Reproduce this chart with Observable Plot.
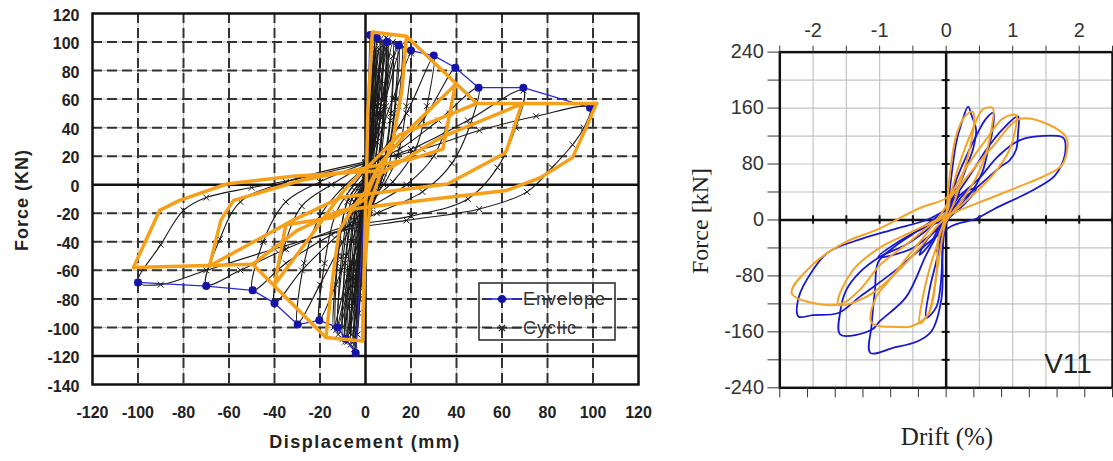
<!DOCTYPE html>
<html><head><meta charset="utf-8">
<script src="https://cdn.jsdelivr.net/npm/d3@7"></script>
<script src="https://cdn.jsdelivr.net/npm/@observablehq/plot@0.6"></script>
<style>
body{margin:0;background:#fff;}
#wrap{position:relative;width:1113px;height:461px;overflow:hidden;background:#fff;}
#left,#right{position:absolute;top:0;}
#left{left:0;} #right{left:680px;}
.lbl{position:absolute;white-space:nowrap;line-height:1;}
.sansb{font-family:"Liberation Sans",Arial,sans-serif;font-weight:bold;color:#222;}
.serif{font-family:"Liberation Serif","Times New Roman",serif;color:#222;}
</style></head><body>
<div id="wrap">
  <div id="left"></div>
  <div id="right"></div>
  <div class="lbl sansb" style="left:22px;top:200px;font-size:18px;letter-spacing:1px;transform:translate(-50%,-50%) rotate(-90deg);">Force (KN)</div>
  <div class="lbl sansb" style="left:365px;top:442px;font-size:18px;letter-spacing:1.5px;transform:translate(-50%,-50%);">Displacement (mm)</div>
  <svg class="lbl" style="left:0;top:0;" width="680" height="461">
    <rect x="479" y="283" width="136" height="57" fill="none" stroke="#333" stroke-width="1.6"/>
    <line x1="485" x2="521" y1="299" y2="299" stroke="#2b2bd9" stroke-width="1.5"/>
    <circle cx="502" cy="299" r="4" fill="#1414a8"/>
    <text x="523" y="299" dy="0.35em" font-family="Liberation Sans, Arial" font-size="18" letter-spacing="1" fill="#333">Envelope</text>
    <line x1="485" x2="521" y1="328" y2="328" stroke="#222" stroke-width="1.2"/>
    <path d="M499,325L505,331M505,325L499,331" stroke="#222" stroke-width="1.2"/>
    <text x="523" y="328" dy="0.35em" font-family="Liberation Sans, Arial" font-size="18" letter-spacing="1" fill="#333">Cyclic</text>
  </svg>
  <div class="lbl serif" style="left:700px;top:221px;font-size:24px;transform:translate(-50%,-50%) rotate(-90deg);">Force [kN]</div>
  <div class="lbl serif" style="left:947px;top:436px;font-size:25px;transform:translate(-50%,-50%);">Drift (%)</div>
  <div class="lbl" style="left:1068px;top:364px;font-size:28px;font-family:'Liberation Sans',Arial;color:#222;transform:translate(-50%,-50%);">V11</div>
</div>
<script>
// ---------- LEFT PANEL DATA (Displacement mm, Force kN) ----------
const xTicksL = [-120,-100,-80,-60,-40,-20,0,20,40,60,80,100,120];
const yTicksL = [-140,-120,-100,-80,-60,-40,-20,0,20,40,60,80,100,120];
const dashedX = [-100,-80,-60,-40,-20,20,40,60,80,100];
const dashedY = [-100,-80,-60,-40,-20,20,40,60,80,100];

const envelopePos = [[0,0],[2,105],[5,103],[9.5,100],[14.6,97.5],[20,94],[30,90.5],[39.5,82],[49.7,68],[69.4,68],[98.7,54]];
const envelopeNeg = [[0,0],[-4.3,-118],[-8.8,-108],[-12.3,-100],[-20.3,-95],[-29.8,-98],[-40,-83],[-49.6,-74],[-70,-71],[-100,-68.5]];

const cyclicLoops = [
  [[0,0],[1,25],[2,55],[1.6,30],[0.6,5],[-0.4,-15],[-1.2,-40],[-2,-62],[-1.5,-35],[-0.6,-8],[0,0]],
  [[0,0],[1.5,35],[3.5,90],[3,55],[1.5,15],[0,-10],[-1.5,-45],[-3,-90],[-2.5,-55],[-1,-15],[0.5,5],[0,0]],
  [[0,0],[2.5,70],[4,100],[3.5,60],[2,20],[0,-20],[-2,-70],[-3.5,-105],[-3,-60],[-1.5,-20],[0,0]],
  [[0,0],[2,45],[4.5,95],[4,55],[2,15],[0,-30],[-2.5,-80],[-5,-115],[-4,-70],[-2,-20],[0,0]],
  [[0,5],[2,45],[5,103],[4.2,60],[2.5,15],[0.5,-10],[-1.5,-50],[-4.3,-118],[-3.5,-70],[-2,-25],[0,0]],
  [[0,0],[3,65],[6,95],[5,55],[3,15],[0,-25],[-3,-80],[-5,-112],[-4.5,-70],[-2.5,-25],[0,0]],
  [[0,1],[3,50],[6.5,102],[5.5,55],[3,10],[0,-25],[-3,-75],[-6.5,-112],[-5.5,-65],[-3,-18],[0,1]],
  [[0,5],[4,60],[7.5,98],[6.5,50],[4,10],[1,-20],[-2.5,-70],[-6,-105],[-5,-55],[-2,-15],[0,5]],
  [[0,0],[4,55],[8,100],[7,60],[4,15],[0,-20],[-4,-65],[-8,-110],[-7,-60],[-4,-15],[0,0]],
  [[0,2],[4.5,60],[9,103],[8,55],[5,12],[0,-22],[-4,-70],[-9,-110],[-8,-60],[-4,-14],[0,2]],
  [[0,0],[3,40],[6,80],[9.5,100],[8.5,60],[6,20],[3,0],[0,-15],[-3,-50],[-6,-85],[-8.8,-108],[-7.5,-65],[-5,-25],[-2,-5],[0,5]],
  [[0,3],[5,55],[9,95],[8,45],[5,8],[1,-20],[-3,-65],[-7,-104],[-6,-55],[-3,-12],[0,3]],
  [[0,2],[5,50],[10,102],[9,55],[6,12],[1,-18],[-5,-60],[-10,-108],[-9,-55],[-5,-12],[0,2]],
  [[0,0],[6,50],[12,90],[11,45],[7,5],[2,-20],[-4,-60],[-10,-100],[-8.5,-50],[-4,-10],[0,0]],
  [[0,4],[6,50],[12,100],[11,50],[7,8],[1,-20],[-6,-65],[-12,-105],[-10.5,-50],[-6,-10],[0,4]],
  [[0,3],[7,48],[14,99],[12.5,50],[8,8],[2,-18],[-6,-55],[-13,-102],[-12,-50],[-7,-8],[0,3]],
  [[0,6],[8,55],[16,98],[14.5,55],[10,12],[3,-15],[-7,-58],[-14,-100],[-12.5,-55],[-8,-12],[0,6]],
  [[0,5],[4,35],[9,70],[14.6,97],[13.5,60],[10,22],[5,2],[0,-12],[-4,-40],[-8,-75],[-12.3,-100],[-10.5,-60],[-7,-22],[-3,-5],[0,8]],
  [[0,8],[5,30],[12,60],[20,92],[18,55],[14,20],[8,0],[0,-15],[-6,-40],[-13,-70],[-20.3,-95],[-18,-55],[-13,-20],[-6,-2],[0,10]],
  [[0,10],[8,25],[18,50],[30,90],[27,55],[22,25],[12,2],[0,-15],[-10,-40],[-20,-70],[-29.8,-97],[-27,-55],[-20,-22],[-10,-2],[0,12]],
  [[0,12],[10,22],[25,45],[39.5,82],[37,50],[30,20],[18,0],[0,-18],[-12,-35],[-28,-60],[-40,-83],[-36,-45],[-28,-15],[-15,0],[0,14]],
  [[0,14],[15,25],[32,45],[49.7,68],[46,42],[38,15],[25,-5],[5,-20],[-15,-35],[-35,-55],[-49.6,-74],[-45,-40],[-35,-12],[-20,2],[0,15]],
  [[0,15],[20,25],[45,45],[69.4,66],[66,40],[58,12],[45,-10],[20,-22],[-10,-30],[-35,-45],[-55,-60],[-70,-70],[-64,-38],[-55,-12],[-35,2],[0,16]],
  [[0,16],[25,25],[50,38],[75,48],[98.7,54],[96,40],[91,28],[82,12],[71,-5],[50,-17],[18,-25],[-10,-32],[-40,-45],[-70,-60],[-90,-70],[-100,-68.5],[-90,-42],[-80,-18],[-70,-9],[-50,-2],[-30,4],[0,15]]
];

const modelLoops = [
  [[-102,-58],[-49.6,-55.7],[-17.4,-107],[-1.3,-109.5],[0,-20],[0.5,10],[1,50],[3,107],[18,104],[49,57],[101.6,57]],
  [[18,104],[16,66],[12,30],[8,14],[2,-13],[-0.5,-60],[-1.3,-109.5]],
  [[-17.4,-107],[-14,-60],[-11.5,-32],[-5,-15],[0,-5],[6.6,15]],
  [[6.6,15],[20,40],[39.5,70],[34,25],[20,18],[0,12],[-10,-5],[-25,-38],[-40,-70],[-35,-28],[-14,-23],[0,-10],[3.7,5]],
  [[3.7,5],[33,33],[68.7,56.6],[62,24],[60.7,21.5],[36,0.5],[-11,-9],[-32,-25],[-68.6,-57],[-63.6,-25],[-58,-11],[-28.5,3],[0.7,12]],
  [[0.7,12],[15,35],[49,57]],
  [[101.6,57],[97,40],[91,19],[77,5],[62,-4],[30,-10],[-11,-18],[-30,-32],[-49.6,-55.7]],
  [[-102,-58],[-90.5,-18],[-81.7,-11],[-61,0.5],[-32,6],[7.5,10]]
];

// ---------- RIGHT PANEL DATA (Drift %, Force kN) ----------
const driftTicksTop = [-2.5,-2,-1.5,-1,-0.5,0,0.5,1,1.5,2,2.5];
const forceTicksR = [-240,-200,-160,-120,-80,-40,0,40,80,120,160,200,240];
const dispTicksMM = [-30,-25,-20,-15,-10,-5,0,5,10,15,20,25,30];
const storyHeightMM = 1200;

const testLoops = [
  [[0,0],[0.08,30],[0.15,55],[0.1,30],[0,5],[-0.08,-25],[-0.15,-45],[-0.1,-25],[0,0]],
  [[0,0],[0.05,40],[0.15,110],[0.23,138],[0.33,162],[0.38,150],[0.45,129],[0.4,100],[0.33,82],[0.2,50],[0.05,25],[-0.02,0],[-0.05,-32],[-0.08,-90],[-0.15,-125],[-0.3,-140],[-0.25,-100],[-0.15,-60],[-0.05,-20],[0,15],[0.1,45]],
  [[0.1,45],[0.25,80],[0.45,120],[0.6,145],[0.71,153],[0.7,130],[0.63,100],[0.55,70],[0.45,50],[0.3,30],[0.1,10],[0,-5],[-0.05,-40],[-0.07,-112],[-0.22,-159],[-0.42,-173],[-0.8,-183],[-1.14,-190],[-1.12,-150],[-1.07,-100],[-1.02,-60],[-0.8,-40],[-0.5,-20],[-0.2,0],[0,15],[0.15,35]],
  [[0.15,35],[0.4,70],[0.6,100],[0.85,130],[1.08,148],[1.08,124],[1.05,100],[0.95,85],[0.83,77],[0.6,58],[0.43,44],[0.2,25],[0,5],[-0.1,-15],[-0.3,-50],[-0.6,-110],[-1.0,-145],[-1.12,-157],[-1.59,-164],[-1.59,-130],[-1.5,-100],[-1.3,-75],[-1.0,-53],[-0.6,-35],[-0.3,-15],[0,10],[0.2,35]],
  [[0.2,35],[0.5,60],[0.78,91],[1.13,115],[1.73,119],[1.78,115],[1.78,91],[1.63,63],[1.33,44],[0.73,16],[0.43,1],[0.1,-8],[-0.3,-35],[-0.8,-75],[-1.3,-110],[-1.62,-133],[-2.0,-136],[-2.22,-138],[-2.22,-112],[-2.02,-74],[-1.77,-46],[-1.27,-27],[-0.77,-13],[-0.27,1],[0,15]],
  [[0,0],[0.12,25],[0.2,40],[0.15,30],[0.05,15],[-0.1,-10],[-0.25,-35],[-0.4,-50],[-0.3,-30],[-0.1,-10],[0,0]],
  [[0,0],[0.3,40],[0.45,45],[0.3,25],[0,0],[-0.5,-40],[-1.02,-53],[-0.7,-30],[-0.3,-10],[0,0]]
];

const simLoops = [
  [[0,0],[0.05,60],[0.15,120],[0.28,148],[0.4,155],[0.42,140],[0.35,100],[0.22,55],[0.1,20],[0,0],[-0.1,-50],[-0.2,-110],[-0.27,-135],[-0.4,-148],[-0.35,-110],[-0.25,-70],[-0.12,-30],[0,10],[0.05,30]],
  [[0.05,30],[0.2,80],[0.4,130],[0.55,158],[0.7,160],[0.68,130],[0.6,95],[0.45,60],[0.25,30],[0.05,5],[-0.1,-20],[-0.15,-80],[-0.27,-135],[-0.52,-152],[-0.72,-153],[-1.12,-147],[-1.05,-110],[-0.87,-88],[-0.6,-55],[-0.3,-20],[0,20],[0.1,40]],
  [[0.1,40],[0.3,75],[0.6,115],[0.85,145],[1.05,150],[1.03,125],[0.95,100],[0.75,70],[0.45,40],[0.15,15],[-0.1,-5],[-0.4,-40],[-0.8,-80],[-1.2,-110],[-1.62,-121],[-1.42,-74],[-1.02,-41],[-0.52,-17],[0,10],[0.05,30]],
  [[0.05,30],[0.3,60],[0.7,105],[1.13,145],[1.8,119],[1.8,91],[1.73,77],[1.48,63],[1.13,49],[0.63,30],[0.13,11],[-0.2,-5],[-0.6,-35],[-1.0,-65],[-1.3,-100],[-1.62,-121],[-2.32,-105],[-2.02,-65],[-1.52,-32],[-1.02,-13],[-0.42,16],[-0.02,30],[0.1,40]]
];

// ---------- build tables ----------
const toRows = (loops) => loops.flatMap((loop, i) => loop.map(([x, y]) => ({x, y, loop: i})));
const cyclicRows = toRows(cyclicLoops);
const modelRows = toRows(modelLoops);
const envRows = toRows([envelopePos, envelopeNeg]);
const envDots = envRows.filter(d => !(d.x === 0 && d.y === 0));
const testRows = toRows(testLoops);
const simRows = toRows(simLoops);
const dispTicksDrift = dispTicksMM.map(mm => mm / storyHeightMM * 100);

const left = Plot.plot({
  width: 680, height: 461,
  marginLeft: 92, marginRight: 42, marginTop: 13, marginBottom: 77,
  x: {domain: [-120, 120]},
  y: {domain: [-140, 120]},
  style: {fontFamily: "Liberation Sans, Arial, sans-serif", fontSize: "16px", fontWeight: "bold", color: "#222", background: "transparent", overflow: "visible"},
  marks: [
    Plot.ruleX(dashedX, {stroke: "#aaa", strokeWidth: 0.8}),
    Plot.ruleY(dashedY, {stroke: "#aaa", strokeWidth: 0.8}),
    Plot.ruleX(dashedX, {stroke: "#333", strokeWidth: 2, strokeDasharray: "10,5"}),
    Plot.ruleY(dashedY, {stroke: "#333", strokeWidth: 2, strokeDasharray: "10,5"}),
    Plot.ruleX([0], {stroke: "#111", strokeWidth: 2.5}),
    Plot.ruleY([0, -120], {stroke: "#111", strokeWidth: 2.5}),
    Plot.line(cyclicRows, {x: "x", y: "y", z: "loop", stroke: "#1a1a1a", strokeWidth: 1.1, curve: "catmull-rom"}),
    Plot.dot(cyclicRows, {x: "x", y: "y", symbol: "times", r: 2.8, stroke: "#1a1a1a", strokeWidth: 1}),
    Plot.line(envRows, {x: "x", y: "y", z: "loop", stroke: "#2b2bd9", strokeWidth: 1.3}),
    Plot.dot(envDots, {x: "x", y: "y", r: 4, fill: "#1414a8"}),
    Plot.line(modelRows, {x: "x", y: "y", z: "loop", stroke: "#f5a01a", strokeWidth: 3.5, strokeLinejoin: "round", strokeLinecap: "round"}),
    Plot.frame({stroke: "#111", strokeWidth: 2.5}),
    Plot.axisX({ticks: xTicksL, tickSize: 0, tickPadding: 22, tickFormat: d => String(d), label: null}),
    Plot.axisY({ticks: yTicksL, tickSize: 0, tickPadding: 13, tickFormat: d => String(d), label: null, dy: 2})
  ]
});
document.getElementById("left").appendChild(left);

const right = Plot.plot({
  width: 436, height: 461,
  marginLeft: 100, marginRight: 1, marginTop: 52, marginBottom: 71,
  x: {domain: [-2.5, 2.5]},
  y: {domain: [-240, 240]},
  style: {fontFamily: "Liberation Sans, Arial, sans-serif", fontSize: "20px", color: "#333", background: "transparent", overflow: "visible"},
  marks: [
    Plot.ruleX(driftTicksTop, {stroke: "#c4c4c4", strokeWidth: 1.2}),
    Plot.ruleY(forceTicksR, {stroke: "#c4c4c4", strokeWidth: 1.2}),
    Plot.ruleX([0], {stroke: "#111", strokeWidth: 2.5}),
    Plot.ruleY([0], {stroke: "#111", strokeWidth: 2.5}),
    Plot.ruleX(driftTicksTop, {y1: -6, y2: 6, stroke: "#111", strokeWidth: 2}),
    Plot.ruleY(forceTicksR, {x1: -0.06, x2: 0.06, stroke: "#111", strokeWidth: 2}),
    Plot.line(testRows, {x: "x", y: "y", z: "loop", stroke: "#1818d0", strokeWidth: 1.8, curve: "catmull-rom"}),
    Plot.line(simRows, {x: "x", y: "y", z: "loop", stroke: "#f3a325", strokeWidth: 2, curve: "catmull-rom"}),
    Plot.frame({stroke: "#111", strokeWidth: 2.5}),
    Plot.axisX({anchor: "top", ticks: driftTicksTop, tickSize: 7, tickPadding: 8, tickFormat: d => Number.isInteger(d) ? String(d) : "", label: null, letterSpacing: 1}),
    Plot.axisX({anchor: "bottom", ticks: dispTicksDrift, tickSize: 10, tickFormat: () => "", label: null}),
    Plot.axisY({ticks: forceTicksR, tickSize: 12, tickPadding: 4, tickFormat: d => d % 80 === 0 ? String(d) : "", label: null})
  ]
});
document.getElementById("right").appendChild(right);
</script>
</body></html>
